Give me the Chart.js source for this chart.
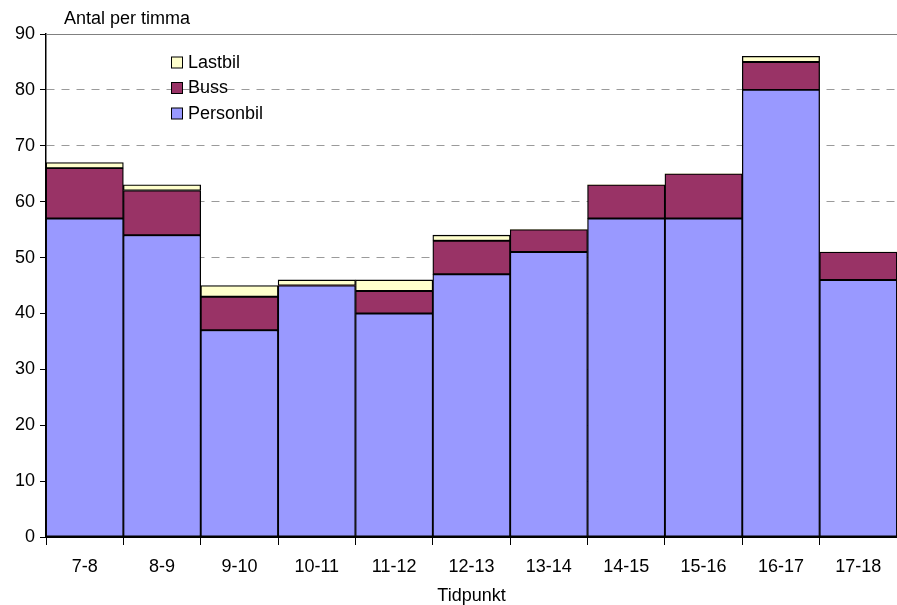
<!DOCTYPE html>
<html>
<head>
<meta charset="utf-8">
<script src="https://cdn.jsdelivr.net/npm/chart.js@4/dist/chart.umd.min.js"></script>
<style>
  html, body { margin: 0; padding: 0; background: #fff; }
  #wrap { width: 897px; height: 605px; }
</style>
</head>
<body>
<div id="wrap"><canvas id="c" width="897" height="605"></canvas></div>
<script>
const categories = ['7-8', '8-9', '9-10', '10-11', '11-12', '12-13', '13-14', '14-15', '15-16', '16-17', '17-18'];
const personbil = [57, 54, 37, 45, 40, 47, 51, 57, 57, 80, 46];
const buss      = [9, 8, 6, 0, 4, 6, 4, 6, 8, 5, 5];
const lastbil   = [1, 1, 2, 1, 2, 1, 0, 0, 0, 1, 0];
const yTicks = [0, 10, 20, 30, 40, 50, 60, 70, 80, 90];

const FONT = 'Liberation Sans, Arial, sans-serif';
const FSIZE = 18;

// Axis title above the value axis, legend box inside the plot and solid top frame line
const extras = {
  id: 'extras',
  afterDraw(chart) {
    const { ctx, chartArea } = chart;
    ctx.save();
    // top frame line
    ctx.strokeStyle = '#808080';
    ctx.lineWidth = 1;
    ctx.beginPath();
    ctx.moveTo(chartArea.left, chartArea.top + 0.5);
    ctx.lineTo(chartArea.right, chartArea.top + 0.5);
    ctx.stroke();

    ctx.font = FSIZE + 'px ' + FONT;
    ctx.fillStyle = '#000';
    ctx.textBaseline = 'middle';
    ctx.textAlign = 'left';
    ctx.fillText('Antal per timma', 64, 19);

    // legend, top series first
    const ds = chart.data.datasets.slice().reverse();
    ds.forEach((d, i) => {
      const y = 62.5 + i * 25.5;
      ctx.fillStyle = d.backgroundColor;
      ctx.fillRect(171.5, y - 5.5, 11, 11);
      ctx.strokeStyle = '#000';
      ctx.lineWidth = 1;
      ctx.strokeRect(171.5, y - 5.5, 11, 11);
      ctx.fillStyle = '#000';
      ctx.fillText(d.label, 188, y + 0.5);
    });
    ctx.restore();
  }
};

const bw = (c) => (c.raw ? 1.3 : 0);

new Chart(document.getElementById('c'), {
  type: 'bar',
  data: {
    labels: categories,
    datasets: [
      { label: 'Personbil', data: personbil, backgroundColor: '#9999FF', borderColor: '#000', borderWidth: bw, borderSkipped: false },
      { label: 'Buss', data: buss, backgroundColor: '#993366', borderColor: '#000', borderWidth: bw, borderSkipped: false },
      { label: 'Lastbil', data: lastbil, backgroundColor: '#FFFFCC', borderColor: '#000', borderWidth: bw, borderSkipped: false }
    ]
  },
  options: {
    responsive: false,
    animation: false,
    devicePixelRatio: 1,
    layout: { padding: { top: 34, right: 0, left: 0, bottom: 0 } },
    plugins: { legend: { display: false }, tooltip: { enabled: false } },
    datasets: { bar: { barPercentage: 1, categoryPercentage: 1 } },
    scales: {
      x: {
        stacked: true,
        grid: { offset: true, drawOnChartArea: false, drawTicks: true, tickLength: 8, tickColor: '#000', tickWidth: 1 },
        border: { color: '#000', width: 2 },
        ticks: { color: '#000', font: { family: FONT, size: FSIZE }, padding: 11, maxRotation: 0 },
        title: { display: true, text: 'Tidpunkt', color: '#000', font: { family: FONT, size: FSIZE, lineHeight: 1 }, padding: { top: 9, bottom: 0 } },
        afterFit(s) { s.height = 68; }
      },
      y: {
        stacked: true,
        min: 0,
        max: 90,
        afterBuildTicks(s) { s.ticks = yTicks.map(v => ({ value: v })); },
        grid: { color: '#9a9a9a', lineWidth: 1, drawTicks: true, tickLength: 6, tickColor: '#000', tickBorderDash: [] },
        border: { color: '#000', width: 1.5, dash: [8, 7] },
        ticks: { color: '#000', font: { family: FONT, size: FSIZE }, padding: 5 },
        afterFit(s) { s.width = 46; }
      }
    }
  },
  plugins: [extras]
});
</script>
</body>
</html>
